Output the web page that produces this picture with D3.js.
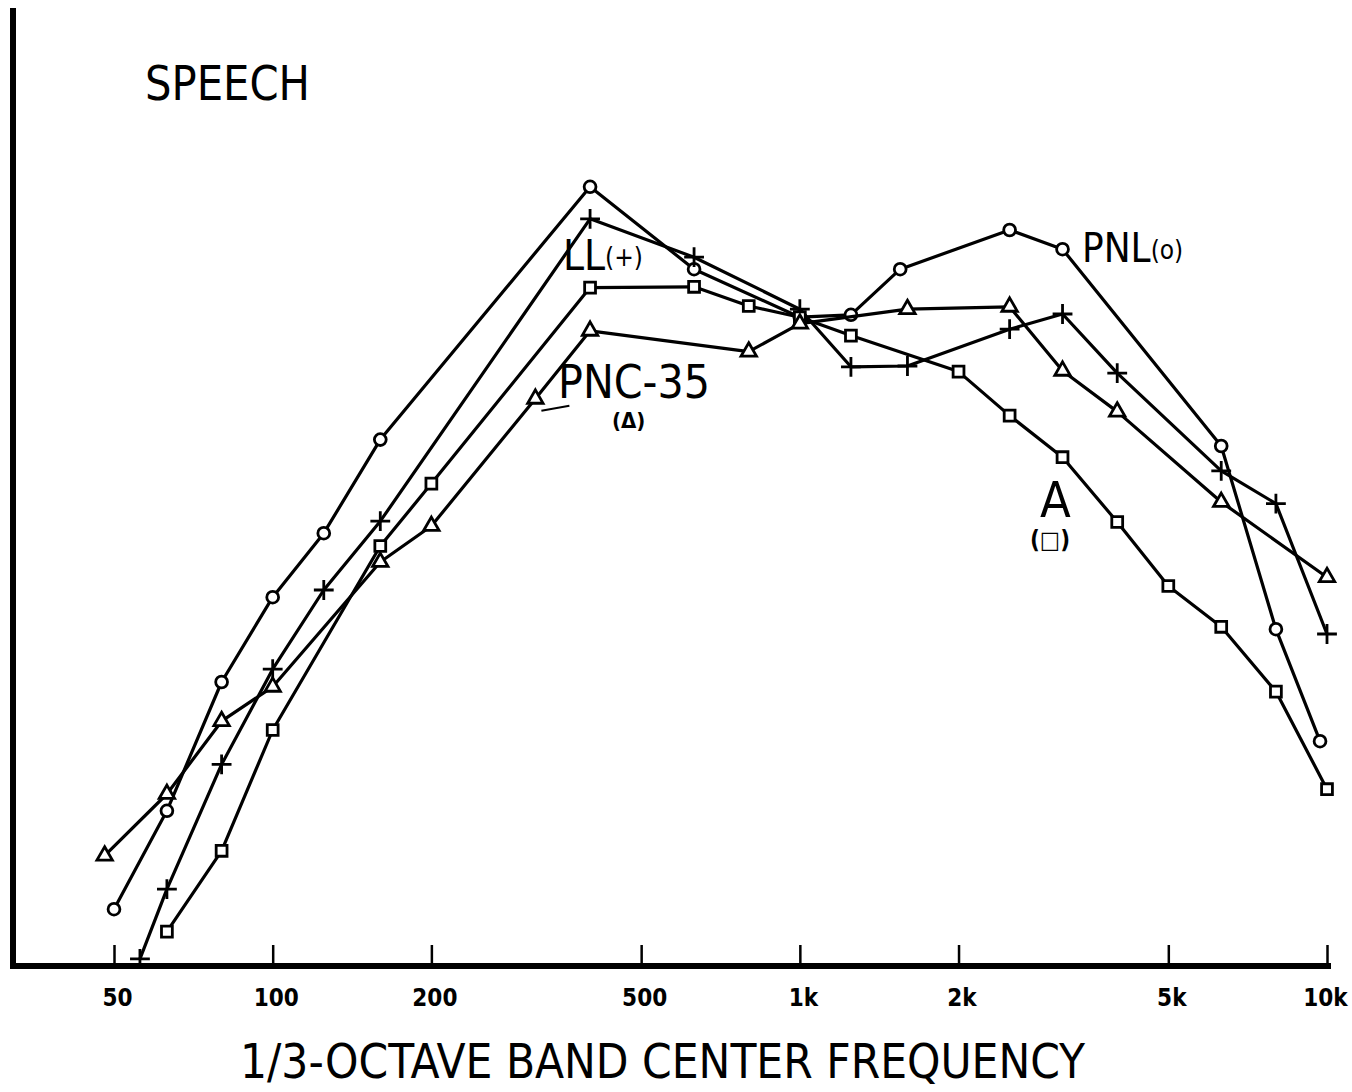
<!DOCTYPE html>
<html>
<head>
<meta charset="utf-8">
<script src="https://cdn.jsdelivr.net/npm/d3@7"></script>
<style>
  body { margin: 0; background: #fff; }
  svg { display: block; }
</style>
</head>
<body>
<script>
// Values (relative level, arbitrary dB units)
const bandTicks = [50, 100, 200, 500, 1000, 2000, 5000, 10000];
const tickLabels = ["50", "100", "200", "500", "1k", "2k", "5k", "10k"];

const pnlFreq  = [50, 63, 80, 100, 125, 160, 400, 630, 1000, 1250, 1550, 2500, 3150, 6300, 8000, 9700];
const pnlLevel = [7.1, 19.4, 35.5, 46.1, 54.1, 65.8, 97.4, 87.1, 81.1, 81.4, 87.1, 92.0, 89.6, 65.0, 42.1, 28.1];

const llFreq  = [56, 63, 80, 100, 125, 160, 400, 630, 1000, 1250, 1600, 2500, 3150, 4000, 6300, 8000, 10000];
const llLevel = [0.9, 9.6, 25.2, 37.1, 47.0, 55.6, 93.4, 88.6, 82.1, 74.9, 75.0, 79.6, 81.5, 74.1, 61.9, 57.8, 41.5];

const aFreq  = [63, 80, 100, 160, 200, 400, 630, 800, 1000, 1250, 2000, 2500, 3150, 4000, 5000, 6300, 8000, 10000];
const aLevel = [4.3, 14.4, 29.5, 52.5, 60.3, 84.8, 84.9, 82.5, 81.1, 78.8, 74.3, 68.8, 63.6, 55.5, 47.5, 42.4, 34.3, 22.1];

const pncFreq  = [48, 63, 80, 100, 160, 200, 315, 400, 800, 1000, 1600, 2500, 3150, 4000, 6300, 10000];
const pncLevel = [13.8, 21.5, 30.6, 34.9, 50.5, 55.0, 70.9, 79.4, 76.8, 80.3, 82.1, 82.4, 74.4, 69.3, 58.0, 48.6];

const WIDTH = 1352;
const HEIGHT = 1092;
const AXIS_Y = 966;

const svg = d3.select("body")
  .append("svg")
  .attr("width", WIDTH)
  .attr("height", HEIGHT);

// Scales
const xScale = d3.scaleLog()
  .domain([50, 10000])
  .range([114, 1327]);

const yScale = d3.scaleLinear()
  .domain([0, 120])
  .range([AXIS_Y, 6]);

const narrow = "'Liberation Sans Narrow', 'DejaVu Sans Condensed', 'Roboto', sans-serif";

// Left frame line
svg.append("line")
  .attr("x1", 13).attr("x2", 13)
  .attr("y1", 8).attr("y2", AXIS_Y + 3)
  .attr("stroke", "#000")
  .attr("stroke-width", 6);

// Bottom axis
const xAxis = d3.axisBottom(xScale)
  .tickValues(bandTicks)
  .tickFormat((d, i) => tickLabels[i])
  .tickSize(-21)
  .tickPadding(23);

const axisG = svg.append("g")
  .attr("transform", `translate(0, ${AXIS_Y})`)
  .call(xAxis);

axisG.select(".domain").remove();
axisG.selectAll(".tick line")
  .attr("stroke", "#000")
  .attr("stroke-width", 2.5);
axisG.selectAll(".tick text")
  .attr("fill", "#000")
  .attr("x", (d) => d === 10000 ? -2 : 3)
  .style("font-family", narrow)
  .style("font-weight", "bold")
  .style("font-size", "24px");

axisG.append("line")
  .attr("x1", 10)
  .attr("x2", xScale(10000) + 4)
  .attr("y1", 0).attr("y2", 0)
  .attr("stroke", "#000")
  .attr("stroke-width", 6);

// Series
const series = [
  { name: "PNL", freq: pnlFreq, level: pnlLevel, symbol: d3.symbolCircle, size: 110 },
  { name: "LL", freq: llFreq, level: llLevel, symbol: d3.symbolPlus, size: 130 },
  { name: "A", freq: aFreq, level: aLevel, symbol: d3.symbolSquare2, size: 150 },
  { name: "PNC-35", freq: pncFreq, level: pncLevel, symbol: d3.symbolTriangle2, size: 170 }
];

const line = d3.line()
  .x((d) => xScale(d.f))
  .y((d) => yScale(d.v));

series.forEach((s) => {
  const pts = s.freq.map((f, i) => ({ f: f, v: s.level[i] }));

  svg.append("path")
    .datum(pts)
    .attr("fill", "none")
    .attr("stroke", "#000")
    .attr("stroke-width", 3.2)
    .attr("stroke-linejoin", "round")
    .attr("d", line);

  svg.selectAll(null)
    .data(pts)
    .enter()
    .append("path")
    .attr("transform", (d) => `translate(${xScale(d.f)}, ${yScale(d.v)})`)
    .attr("d", d3.symbol().type(s.symbol).size(s.size))
    .attr("fill", s.name === "LL" ? "none" : "#fff")
    .attr("stroke", "#000")
    .attr("stroke-width", 2.8);
});

// Title
svg.append("text")
  .attr("x", 145)
  .attr("y", 100)
  .attr("textLength", 165)
  .attr("lengthAdjust", "spacingAndGlyphs")
  .style("font-family", narrow)
  .style("font-size", "48px")
  .text("SPEECH");

// X axis title
svg.append("text")
  .attr("x", 240)
  .attr("y", 1078)
  .attr("textLength", 845)
  .attr("lengthAdjust", "spacingAndGlyphs")
  .style("font-family", narrow)
  .style("font-size", "48px")
  .text("1/3-OCTAVE BAND CENTER FREQUENCY");

// Curve labels
const labelFont = "'Liberation Sans Narrow', 'DejaVu Sans Condensed', sans-serif";

const ll = svg.append("text")
  .attr("x", 563).attr("y", 270)
  .style("font-family", labelFont);
ll.append("tspan").style("font-size", "42px").text("LL");
ll.append("tspan").style("font-size", "26px").attr("dy", -4).text("(+)");

const pnl = svg.append("text")
  .attr("x", 1082).attr("y", 262)
  .style("font-family", labelFont);
pnl.append("tspan").style("font-size", "40px").text("PNL");
pnl.append("tspan").style("font-size", "26px").attr("dy", -3).text("(o)");

svg.append("text")
  .attr("x", 558).attr("y", 398)
  .attr("textLength", 152)
  .attr("lengthAdjust", "spacingAndGlyphs")
  .style("font-family", labelFont)
  .style("font-size", "46px")
  .text("PNC-35");

svg.append("text")
  .attr("x", 612).attr("y", 428)
  .style("font-family", labelFont)
  .style("font-size", "22px")
  .style("font-weight", "bold")
  .text("(\u0394)");

svg.append("text")
  .attr("x", 1040).attr("y", 517)
  .style("font-family", labelFont)
  .style("font-size", "50px")
  .text("A");

svg.append("text")
  .attr("x", 1030).attr("y", 548)
  .style("font-family", labelFont)
  .style("font-size", "24px")
  .style("font-weight", "bold")
  .text("(\u25A1)");

// Leader from PNC-35 label to its 315 Hz point
svg.append("line")
  .attr("x1", xScale(315) + 6).attr("y1", yScale(70.9) + 12)
  .attr("x2", xScale(315) + 34).attr("y2", yScale(70.9) + 7)
  .attr("stroke", "#000")
  .attr("stroke-width", 2);
</script>
</body>
</html>
